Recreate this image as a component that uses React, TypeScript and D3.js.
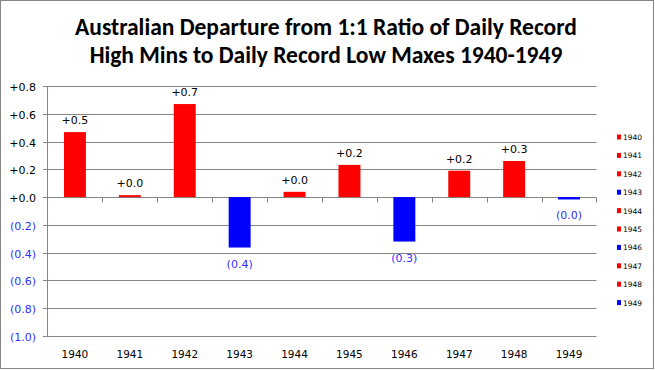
import React from "react";
import * as d3 from "d3";

const years = ["1940", "1941", "1942", "1943", "1944", "1945", "1946", "1947", "1948", "1949"];
const values = [0.468, 0.014, 0.67, -0.363, 0.038, 0.232, -0.32, 0.19, 0.26, -0.017];
const yTicks = [0.8, 0.6, 0.4, 0.2, 0, -0.2, -0.4, -0.6, -0.8, -1.0];
const titleLines = [
  "Australian Departure from 1:1 Ratio of Daily Record",
  "High Mins to Daily Record Low Maxes 1940-1949",
];

const W = 655, H = 370;
const left = 47.5, right = 596.5, top = 86, bottom = 336;

const fmt = (v: number) => (v < 0 ? `(${Math.abs(v).toFixed(1)})` : `+${v.toFixed(1)}`);
const color = (v: number) => (v < 0 ? "#0000ff" : "#ff0000");

export default function App() {
  const x = d3.scaleBand<string>().domain(years).range([left, right]).paddingInner(0.6).paddingOuter(0.3);
  const xb = d3.scaleBand<string>().domain(years).range([left, right]);
  const y = d3.scaleLinear().domain([-1, 0.8]).range([bottom, top]);
  const y0 = Math.round(y(0)) + 0.5;
  const font = "Tahoma, 'DejaVu Sans', sans-serif";
  return (
    <svg width={W} height={H} style={{ position: "absolute", left: 0, top: 0, background: "#fff" }}>
      <rect x={0.5} y={0.5} width={W - 2} height={H - 2} fill="#fff" stroke="#868686" />
      {titleLines.map((t, i) => (
        <text key={i} x={326} y={35 + i * 28} textAnchor="middle" fontFamily="Carlito, Lato, 'Open Sans', sans-serif"
          fontWeight="bold" fontSize={23.5} fill="#000">{t}</text>
      ))}
      {yTicks.map((t) => {
        const yy = Math.round(y(t)) + 0.5;
        return (
          <g key={t}>
            <line x1={43} x2={right} y1={yy} y2={yy} stroke="#868686" />
            <text x={36} y={yy + 4} textAnchor="end" fontFamily={font} fontSize={11}
              fill={t < 0 ? "#3030ff" : "#000"}>{fmt(t)}</text>
          </g>
        );
      })}
      <line x1={left} x2={left} y1={top} y2={bottom} stroke="#868686" />
      {years.map((yr) => {
        const xx = Math.round((xb(yr) as number) + xb.bandwidth()) + 0.5;
        return <line key={yr} x1={xx} x2={xx} y1={y0} y2={y0 + 5} stroke="#868686" />;
      })}
      {years.map((yr, i) => {
        const v = values[i];
        const yTop = y(Math.max(0, v));
        const yBot = y(Math.min(0, v));
        return (
          <rect key={yr} x={x(yr)} width={x.bandwidth()} y={yTop} height={Math.max(1, yBot - yTop)} fill={color(v)} />
        );
      })}
      {years.map((yr, i) => {
        const v = values[i];
        const cx = (x(yr) as number) + x.bandwidth() / 2;
        const ly = v >= 0 ? y(v) - 8 : y(v) + 20;
        return (
          <text key={yr} x={cx} y={ly} textAnchor="middle" fontFamily={font} fontSize={11}
            fill={v < 0 ? "#3030ff" : "#000"}>{fmt(v)}</text>
        );
      })}
      {years.map((yr) => (
        <text key={yr} x={(xb(yr) as number) + xb.bandwidth() / 2} y={358} textAnchor="middle" fontFamily={font}
          fontSize={10.5} fill="#000">{yr}</text>
      ))}
      {years.map((yr, i) => {
        const ly = 137 + i * 18.4;
        return (
          <g key={yr}>
            <rect x={617} y={ly - 2.5} width={4} height={5} fill={color(values[i])} />
            <text x={623} y={ly + 3} fontFamily={font} fontSize={7.5} fill="#000">{yr}</text>
          </g>
        );
      })}
    </svg>
  );
}
